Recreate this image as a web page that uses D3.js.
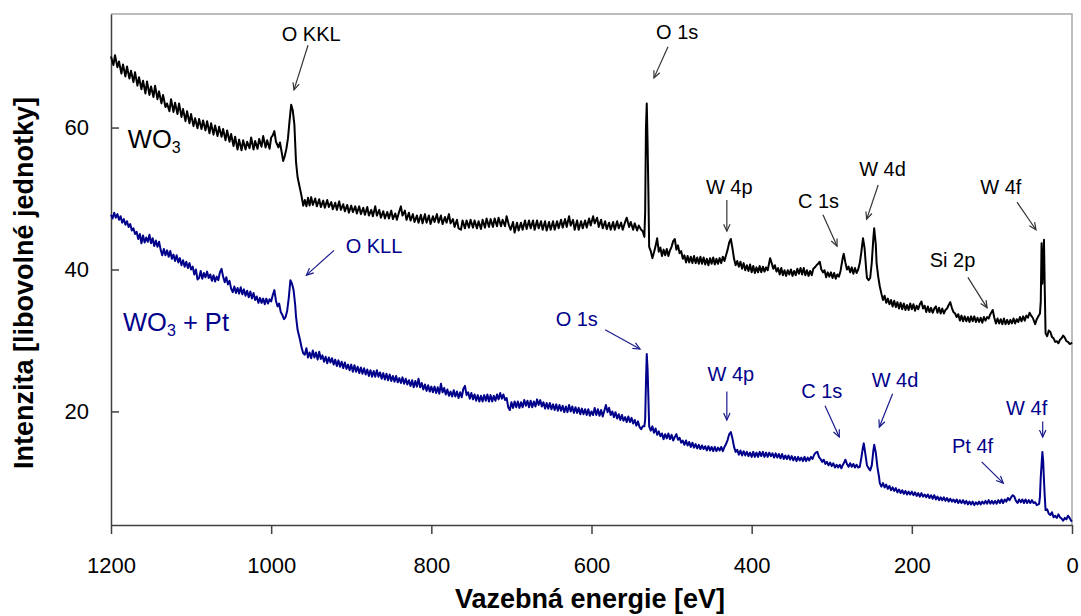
<!DOCTYPE html>
<html><head><meta charset="utf-8">
<script src="https://cdn.jsdelivr.net/npm/d3@7"></script>
<style>
html,body{margin:0;padding:0;background:#fff;}
svg{display:block;font-family:"Liberation Sans",Arial,sans-serif;}
</style></head>
<body><svg id="c" width="1081" height="616"></svg>
<script>
// ---- data (binding energy eV, intensity a.u.) ----
const xTicks = [1200, 1000, 800, 600, 400, 200, 0];
const yTicks = [20, 40, 60];
const xTitle = "Vazebná energie [eV]";
const yTitle = "Intenzita [libovolné jednotky]";

const wo3Spectrum = [
[1200,70.0],[1197,68.8],[1195,70.2],[1192,68.5],[1190,69.3],[1187,67.6],[1185,68.9],[1182,67.2],[1180,68.6],[1177,66.9],
[1175,68.0],[1172,66.4],[1170,67.8],[1167,65.9],[1165,67.1],[1162,65.4],[1160,66.6],[1157,64.8],[1155,66.5],[1152,64.6],
[1150,65.8],[1147,64.3],[1145,65.9],[1142,64.0],[1140,65.1],[1137,63.4],[1135,64.6],[1132,62.9],[1130,63.4],[1127,62.3],
[1125,64.0],[1122,62.2],[1120,63.5],[1117,61.9],[1115,63.4],[1112,61.5],[1110,62.6],[1107,60.9],[1105,62.3],[1102,60.6],
[1100,61.9],[1097,60.2],[1095,61.3],[1092,59.9],[1090,61.2],[1087,59.8],[1085,61.0],[1082,59.6],[1080,60.9],[1077,59.2],
[1075,60.6],[1072,59.0],[1070,60.3],[1067,58.8],[1065,60.1],[1062,58.7],[1060,59.8],[1057,58.2],[1055,59.6],[1052,58.0],
[1050,59.1],[1047,57.4],[1045,58.7],[1042,56.9],[1040,58.3],[1037,56.8],[1035,58.2],[1032,56.9],[1030,58.0],[1027,57.1],
[1025,58.6],[1022,56.9],[1020,58.1],[1017,57.0],[1015,58.4],[1012,57.3],[1010,58.8],[1007,57.2],[1005,58.2],[1002,57.0],
[1000,58.6],[998,58.9],[996,59.5],[994,58.0],[991,57.2],[989,57.9],[987,56.6],[985,55.3],[983,56.0],[981,57.0],
[979,58.5],[977,61.0],[975,63.2],[973,62.4],[971,60.4],[969,55.2],[967,53.0],[964,51.4],[962,50.3],[960,49.0],
[958,49.8],[956,48.9],[954,50.1],[952,49.0],[950,50.2],[948,49.1],[945,50.0],[943,48.9],[940,49.9],[938,48.8],
[935,49.7],[933,48.7],[930,49.8],[928,48.8],[925,49.5],[923,48.5],[920,49.4],[918,48.4],[915,49.6],[913,48.4],
[910,49.2],[908,48.2],[905,49.1],[903,48.0],[900,49.0],[898,48.1],[895,48.9],[893,47.9],[890,48.9],[888,47.8],
[885,48.7],[883,47.7],[880,48.8],[878,47.6],[875,48.4],[873,47.5],[870,48.9],[868,47.6],[865,48.4],[863,47.3],
[860,48.2],[858,47.2],[855,48.1],[853,47.2],[850,48.3],[848,47.1],[845,47.9],[843,47.0],[840,48.2],[838,48.9],
[836,47.6],[833,48.3],[831,47.0],[828,48.0],[826,46.9],[823,47.8],[821,46.7],[818,47.6],[816,46.6],[813,47.7],
[811,46.5],[808,47.8],[806,46.6],[803,47.6],[801,46.4],[798,47.5],[796,46.7],[793,47.8],[791,46.6],[788,47.6],
[786,46.4],[783,47.4],[781,46.6],[778,47.8],[776,46.5],[773,47.1],[771,46.0],[768,47.0],[766,45.8],[763,45.6],
[761,46.9],[758,45.8],[756,46.9],[753,45.9],[751,47.0],[748,45.9],[746,46.9],[743,45.8],[741,46.8],[738,45.7],
[736,47.0],[733,45.9],[731,47.2],[728,46.0],[726,47.1],[723,46.0],[721,47.2],[718,46.1],[716,47.3],[713,46.1],
[711,47.0],[708,46.1],[706,47.5],[703,46.2],[701,45.6],[698,46.7],[696,45.2],[693,46.6],[691,45.5],[688,46.6],
[686,45.6],[683,46.9],[681,45.7],[678,46.9],[676,45.8],[673,46.9],[671,45.6],[668,46.9],[666,45.8],[663,46.8],
[661,45.6],[658,46.8],[656,45.5],[653,46.7],[651,45.6],[648,46.8],[646,45.6],[643,46.8],[641,45.8],[638,47.0],
[636,45.9],[633,47.1],[631,46.0],[628,47.5],[626,46.2],[623,47.0],[621,45.6],[618,46.9],[616,45.6],[613,46.8],
[611,45.8],[608,46.9],[606,45.9],[603,47.2],[601,46.2],[598,47.5],[596,46.5],[593,47.3],[591,46.0],[588,47.0],
[586,45.8],[583,46.8],[581,45.7],[578,46.6],[576,45.6],[573,46.7],[571,45.6],[568,46.8],[566,45.8],[563,46.6],
[561,45.6],[558,46.7],[556,47.3],[553,46.0],[551,46.7],[548,45.6],[546,46.5],[543,45.5],[541,46.2],[538,45.6],
[536,45.4],[534,44.6],[533,48.0],[532,60.0],[531,63.4],[530,58.0],[529,51.2],[528,43.2],[526,42.6],[524,41.6],
[522,42.4],[520,43.3],[518,44.4],[516,42.5],[514,43.1],[512,41.9],[510,42.8],[508,42.0],[506,42.9],[504,41.9],
[502,42.7],[500,43.2],[498,44.0],[496,44.3],[494,42.8],[492,43.4],[490,42.3],[488,42.6],[486,41.5],[484,42.0],
[482,41.0],[480,41.9],[478,41.0],[476,41.8],[474,40.9],[472,41.9],[470,40.9],[468,41.7],[466,40.8],[464,41.8],
[462,40.8],[460,41.7],[458,40.7],[456,41.5],[454,40.6],[452,41.6],[450,40.8],[448,41.7],[446,40.7],[444,41.5],
[442,40.8],[440,41.6],[438,40.9],[436,41.8],[434,41.2],[432,42.0],[430,42.8],[428,43.8],[426,44.3],[424,43.0],
[422,41.5],[420,40.6],[418,41.2],[416,40.4],[414,41.1],[412,40.1],[410,40.9],[408,39.9],[406,40.6],[404,39.8],
[402,40.7],[400,39.6],[398,40.5],[396,39.5],[394,40.3],[392,39.6],[390,40.5],[388,39.6],[386,40.4],[384,39.7],
[382,40.3],[380,39.9],[378,41.0],[377,41.6],[375,40.9],[373,40.1],[371,40.6],[369,39.7],[367,40.2],[365,39.3],
[363,40.2],[361,39.2],[359,39.9],[357,39.1],[355,39.9],[353,39.3],[351,40.0],[349,39.1],[347,39.8],[345,39.2],
[343,40.1],[341,39.4],[339,40.2],[337,39.3],[335,40.2],[333,39.2],[331,39.9],[329,39.1],[327,39.8],[325,39.2],
[323,40.1],[321,40.3],[319,40.6],[317,40.8],[315,41.1],[313,40.0],[311,39.6],[309,39.9],[307,38.9],[305,39.6],
[303,39.0],[301,39.6],[299,38.8],[297,39.5],[295,38.7],[293,39.3],[291,39.0],[289,39.8],[288,40.5],[286,41.8],
[285,42.2],[283,41.0],[281,40.0],[279,40.4],[277,39.6],[275,40.3],[273,39.4],[271,40.2],[269,39.5],[267,40.0],
[265,40.9],[263,42.5],[261,44.4],[259,43.0],[257,40.0],[256,38.8],[254,38.5],[252,38.8],[250,41.0],[248,44.5],
[247,45.8],[245,43.5],[244,40.9],[242,39.0],[240,37.6],[238,36.6],[236,35.7],[234,36.3],[232,35.3],[230,35.9],
[228,35.1],[226,35.7],[224,34.8],[222,35.6],[220,34.7],[218,35.4],[216,34.5],[214,35.3],[212,34.4],[210,35.2],
[208,34.3],[206,35.0],[204,34.3],[202,35.2],[200,34.4],[198,35.1],[196,34.2],[194,34.9],[192,34.4],[190,35.1],
[188,35.5],[186,34.5],[184,34.9],[182,34.0],[180,34.8],[178,34.0],[176,34.6],[174,33.9],[172,34.5],[170,34.8],
[168,33.9],[166,34.6],[164,33.8],[162,34.5],[160,33.8],[158,34.3],[156,34.5],[154,35.0],[152,35.4],[150,34.6],
[148,34.0],[146,33.8],[144,33.3],[142,33.7],[140,32.8],[138,33.5],[136,32.7],[134,33.4],[132,32.7],[130,33.3],
[128,32.6],[126,33.4],[124,32.7],[122,33.4],[120,32.6],[118,33.2],[116,32.6],[114,33.2],[112,32.5],[110,33.3],
[108,32.8],[106,33.3],[104,33.1],[102,33.7],[100,34.1],[99,34.3],[97,33.2],[95,32.4],[93,33.1],[91,32.4],
[89,33.0],[87,32.3],[85,33.1],[83,32.3],[81,32.9],[79,32.3],[77,32.9],[75,32.4],[73,33.1],[71,32.4],
[69,33.0],[67,32.6],[65,33.3],[63,32.7],[61,33.4],[59,32.8],[57,33.5],[55,33.2],[53,33.9],[51,33.5],
[49,33.2],[47,32.6],[46,32.3],[44,33.0],[42,33.4],[40,33.8],[39,35.5],[38,43.7],[37,38.0],[36,40.0],
[35,44.2],[34,37.1],[33,31.0],[31,30.6],[29,31.4],[27,31.2],[25,30.5],[23,30.3],[21,29.8],[19,29.9],
[17,29.6],[15,30.1],[13,30.3],[11,30.7],[9,30.4],[7,29.9],[5,29.8],[3,29.5],[1,29.6],[0,29.7]
];

const wo3PtSpectrum = [
[1200,47.7],[1198,47.2],[1196,48.0],[1194,47.3],[1192,47.8],[1190,47.0],[1188,47.5],[1186,46.6],[1184,47.1],[1182,46.3],
[1180,46.8],[1178,46.0],[1176,46.4],[1174,45.5],[1172,45.8],[1170,45.0],[1168,45.3],[1166,44.3],[1164,45.0],[1162,43.7],
[1160,44.8],[1158,43.8],[1156,44.5],[1154,43.9],[1152,44.9],[1150,43.7],[1148,44.4],[1146,43.3],[1144,44.1],[1142,43.2],
[1140,43.9],[1138,42.8],[1136,42.0],[1134,42.9],[1132,42.0],[1130,42.7],[1128,41.8],[1126,42.6],[1124,41.5],[1122,42.1],
[1120,41.2],[1118,42.0],[1116,41.0],[1114,41.6],[1112,40.6],[1110,41.3],[1108,40.4],[1106,41.1],[1104,40.2],[1102,40.9],
[1100,40.0],[1098,40.4],[1096,39.3],[1094,40.0],[1092,38.6],[1090,38.8],[1088,39.8],[1086,38.7],[1084,39.5],[1082,38.9],
[1080,39.7],[1078,38.8],[1076,39.3],[1074,38.4],[1072,39.2],[1070,38.3],[1068,39.0],[1066,38.5],[1064,39.6],[1062,40.1],
[1060,39.0],[1058,38.2],[1056,38.9],[1054,37.9],[1052,38.4],[1050,37.3],[1048,36.8],[1046,37.6],[1044,36.7],[1042,37.4],
[1040,36.6],[1038,37.5],[1036,36.5],[1034,37.2],[1032,36.3],[1030,37.0],[1028,36.1],[1026,36.9],[1024,35.9],[1022,36.7],
[1020,35.7],[1018,36.2],[1016,35.3],[1014,36.0],[1012,35.3],[1010,35.9],[1008,35.1],[1006,35.9],[1004,35.2],[1002,35.8],
[1000,35.5],[998,36.4],[996,37.1],[994,35.6],[992,34.8],[990,35.2],[988,34.0],[986,33.6],[984,33.0],[982,33.3],
[980,34.2],[978,36.0],[976,38.5],[974,38.0],[972,37.1],[970,35.0],[969,33.4],[967,31.5],[964,30.1],[962,29.0],
[960,28.2],[958,28.0],[956,28.9],[954,27.6],[952,28.3],[950,27.5],[948,28.6],[946,27.6],[944,28.3],[942,27.3],
[940,28.4],[938,27.4],[936,27.9],[934,27.0],[932,27.7],[930,26.8],[928,27.6],[926,26.9],[924,27.5],[922,26.6],
[920,27.3],[918,26.4],[916,27.2],[914,26.3],[912,27.0],[910,26.1],[908,26.9],[906,26.0],[904,26.6],[902,25.8],
[900,26.6],[898,25.6],[896,26.5],[894,25.6],[892,26.3],[890,25.4],[888,26.2],[886,25.3],[884,26.1],[882,25.2],
[880,25.9],[878,25.0],[876,25.8],[874,24.9],[872,25.7],[870,24.9],[868,25.8],[866,24.9],[864,25.5],[862,24.6],
[860,25.4],[858,24.5],[856,25.3],[854,24.4],[852,25.2],[850,24.3],[848,25.0],[846,24.2],[844,25.0],[842,24.1],
[840,24.7],[838,24.0],[836,24.8],[834,23.9],[832,24.6],[830,23.8],[828,24.4],[826,23.6],[824,24.4],[822,23.4],
[820,24.3],[818,23.5],[816,24.6],[814,23.4],[812,24.0],[810,23.1],[808,23.8],[806,22.9],[804,23.7],[802,22.8],
[800,23.5],[798,22.7],[796,23.5],[794,22.6],[792,23.4],[790,22.5],[788,23.9],[786,22.7],[784,23.3],[782,22.4],
[780,23.1],[778,22.2],[776,22.8],[774,22.1],[772,23.0],[770,22.1],[768,22.8],[766,21.9],[764,22.7],[762,22.0],
[760,23.2],[758,23.6],[756,22.3],[754,22.7],[752,21.8],[750,22.6],[748,21.7],[746,22.4],[744,21.5],[742,22.3],
[740,21.4],[738,22.2],[736,21.4],[734,22.3],[732,21.5],[730,22.4],[728,21.4],[726,22.3],[724,21.4],[722,22.2],
[720,21.5],[718,22.4],[716,21.7],[714,22.6],[712,21.8],[710,22.4],[708,21.6],[706,21.9],[704,20.6],[702,20.2],
[700,21.3],[698,20.5],[696,21.4],[694,20.6],[692,21.4],[690,20.5],[688,21.3],[686,20.6],[684,21.6],[682,20.8],
[680,21.5],[678,20.6],[676,21.5],[674,20.6],[672,21.4],[670,20.7],[668,21.7],[666,20.9],[664,21.6],[662,20.7],
[660,21.3],[658,20.4],[656,21.2],[654,20.4],[652,21.2],[650,20.3],[648,21.0],[646,20.2],[644,21.0],[642,20.1],
[640,20.9],[638,20.1],[636,20.8],[634,19.9],[632,20.7],[630,19.9],[628,20.9],[626,20.0],[624,20.7],[622,19.8],
[620,20.6],[618,19.8],[616,20.5],[614,19.6],[612,20.4],[610,19.6],[608,20.3],[606,19.5],[604,20.3],[602,19.4],
[600,20.0],[598,19.5],[596,20.5],[594,19.5],[592,20.3],[590,19.4],[588,20.2],[586,19.3],[584,20.1],[582,20.9],
[580,19.9],[578,20.5],[576,19.5],[574,20.0],[572,19.2],[570,19.9],[568,19.0],[566,19.6],[564,18.8],[562,19.5],
[560,18.7],[558,19.2],[556,18.5],[554,19.3],[552,18.5],[550,19.1],[548,18.3],[546,18.8],[544,18.0],[542,18.6],
[540,17.8],[538,17.5],[536,17.9],[534,17.9],[533,18.8],[532,24.0],[531,28.1],[530,26.0],[529,22.1],[528,17.9],
[526,17.3],[524,17.9],[522,17.0],[520,17.6],[518,16.7],[516,17.2],[514,16.5],[512,16.9],[510,16.1],[508,16.8],
[506,16.2],[504,16.9],[502,16.1],[500,16.7],[498,15.9],[496,16.4],[494,16.8],[492,16.0],[490,16.3],[488,15.6],
[486,15.9],[484,15.3],[482,15.9],[480,15.2],[478,15.7],[476,15.0],[474,15.6],[472,14.9],[470,15.4],[468,14.8],
[466,15.3],[464,14.7],[462,15.2],[460,14.7],[458,15.1],[456,14.5],[454,15.1],[452,14.5],[450,15.0],[448,14.4],
[446,15.0],[444,14.4],[442,14.9],[440,14.5],[438,15.0],[436,14.4],[434,15.0],[432,15.4],[430,16.0],[428,16.8],
[426,17.1],[424,16.2],[422,15.0],[420,14.3],[418,14.6],[416,13.9],[414,14.5],[412,13.8],[410,14.4],[408,13.8],
[406,14.3],[404,13.7],[402,14.2],[400,13.6],[398,14.3],[396,13.6],[394,14.2],[392,13.6],[390,14.3],[388,13.7],
[386,14.3],[384,13.6],[382,14.2],[380,13.6],[378,14.2],[376,13.7],[374,14.1],[372,13.5],[370,14.1],[368,13.5],
[366,14.0],[364,13.4],[362,14.0],[360,13.3],[358,13.8],[356,13.3],[354,13.8],[352,13.2],[350,13.7],[348,13.1],
[346,13.6],[344,13.0],[342,13.6],[340,13.1],[338,13.5],[336,13.0],[334,13.6],[332,13.0],[330,13.5],[328,13.1],
[326,13.6],[324,13.3],[322,13.9],[320,14.2],[318,14.3],[316,13.6],[314,13.3],[312,12.9],[310,13.2],[308,12.6],
[306,12.9],[304,12.4],[302,12.8],[300,12.3],[298,12.7],[296,12.1],[294,12.5],[292,12.1],[290,12.5],[288,12.0],
[286,12.5],[284,12.9],[283,13.2],[281,12.6],[279,12.2],[277,12.7],[275,12.2],[273,12.6],[271,12.1],[269,12.5],
[267,12.1],[265,12.2],[263,13.5],[261,15.0],[260,15.5],[258,14.0],[256,12.4],[254,12.0],[252,11.7],[250,12.4],
[248,14.5],[247,15.3],[245,14.2],[243,12.2],[241,10.8],[240,9.9],[238,9.4],[236,9.9],[234,9.3],[232,9.7],
[230,9.1],[228,9.5],[226,8.9],[224,9.3],[222,8.8],[220,9.2],[218,8.6],[216,9.0],[214,8.5],[212,8.9],
[210,8.4],[208,8.8],[206,8.3],[204,8.7],[202,8.3],[200,8.7],[198,8.2],[196,8.6],[194,8.1],[192,8.5],
[190,8.0],[188,8.5],[186,8.0],[184,8.3],[182,7.9],[180,8.3],[178,7.8],[176,8.2],[174,7.7],[172,8.2],
[170,7.6],[168,8.0],[166,7.5],[164,7.9],[162,7.5],[160,7.9],[158,7.4],[156,7.8],[154,7.3],[152,7.7],
[150,7.3],[148,7.6],[146,7.2],[144,7.6],[142,7.1],[140,7.5],[138,7.1],[136,7.5],[134,7.0],[132,7.4],
[130,6.9],[128,7.3],[126,6.9],[124,7.3],[122,6.8],[120,7.2],[118,6.9],[116,7.3],[114,6.9],[112,7.3],
[110,7.0],[108,7.4],[106,7.0],[104,7.5],[102,7.0],[100,7.4],[98,7.0],[96,7.4],[94,7.0],[92,7.5],
[90,7.1],[88,7.6],[86,7.1],[84,7.6],[82,7.3],[80,7.8],[78,7.5],[76,7.9],[74,8.2],[72,8.0],
[70,7.4],[68,7.1],[66,7.6],[64,7.2],[62,7.6],[60,7.1],[58,7.6],[56,7.1],[54,7.5],[52,7.1],
[50,7.5],[48,7.1],[46,7.2],[44,6.8],[42,6.9],[41,7.0],[40,8.0],[39,10.8],[38,12.5],[37,14.3],
[36,13.0],[35,10.3],[34,8.0],[33,6.1],[31,6.2],[29,5.6],[27,5.4],[25,5.8],[23,5.1],[21,5.3],
[19,5.0],[17,5.5],[15,5.1],[13,4.9],[11,4.6],[9,5.0],[7,4.8],[5,5.3],[3,5.0],[1,4.6],[0,4.5]
];

// peak labels: text, label anchor (eV, intensity), arrow from, arrow to
const wo3Peaks = [
  {t:"O KKL", lx:950, ly:72.2, ax:[954,71.6], at:[971.5,65.3]},
  {t:"O 1s",  lx:493, ly:72.5, ax:[504.5,71.4], at:[522,67.0]},
  {t:"W 4p",  lx:428, ly:50.6, ax:[431,49.8], at:[431,45.4]},
  {t:"C 1s",  lx:316.6, ly:48.7, ax:[311,47.7], at:[293.4,43.3]},
  {t:"W 4d",  lx:236.6, ly:53.2, ax:[242,51.9], at:[256.4,47.1]},
  {t:"W 4f",  lx:88.9, ly:50.7, ax:[68.7,49.5], at:[45,45.6]},
  {t:"Si 2p", lx:149.2, ly:40.4, ax:[130,38.9], at:[106,34.6]}
];
const wo3PtPeaks = [
  {t:"O KLL", lx:871.6, ly:42.3, ax:[921.5,42.7], at:[956,39.2]},
  {t:"O 1s",  lx:618.4, ly:32.0, ax:[583,31.5], at:[539.4,28.8]},
  {t:"W 4p",  lx:426, ly:24.3, ax:[431,22.8], at:[431,18.8]},
  {t:"C 1s",  lx:312.5, ly:21.9, ax:[308.4,20.8], at:[290.6,16.4]},
  {t:"W 4d",  lx:221, ly:23.5, ax:[224,22.5], at:[240.6,17.8]},
  {t:"Pt 4f", lx:124.2, ly:14.1, ax:[112.8,12.9], at:[85.8,9.9]},
  {t:"W 4f",  lx:56.6, ly:19.5, ax:[36.6,18.6], at:[36.6,16.4]}
];
const seriesNames = [
  {main:"WO", sub:"3", rest:"", lx:1179, ly:57.1},
  {main:"WO", sub:"3", rest:" + Pt", lx:1185, ly:31.3}
];

// ---- drawing ----
const svg = d3.select("#c");
const L=111, T=14, R=1072, B=525;
const x = d3.scaleLinear().domain([1200,0]).range([L,R]);
const y = d3.scaleLinear().domain([4,76]).range([B,T]);
const colors = ["#000000", "#00008b"];
const arrowCol = ["#333333", "#1a1a8c"];

svg.append("path").attr("d",`M${L},${T}H${R}V${B}`).attr("fill","none")
   .attr("stroke","#a8a8a8").attr("stroke-width",1.5);

const xAxis = svg.append("g").attr("transform",`translate(0,${B})`)
  .call(d3.axisBottom(x).tickValues(xTicks).tickFormat(d3.format("d")).tickSize(9).tickSizeOuter(0).tickPadding(23));
const yAxis = svg.append("g").attr("transform",`translate(${L},0)`)
  .call(d3.axisLeft(y).tickValues(yTicks).tickSize(-8).tickSizeOuter(0).tickPadding(22));
[xAxis,yAxis].forEach(g=>{
  g.selectAll("path.domain").attr("stroke","#404040").attr("stroke-width",1.5);
  g.selectAll(".tick line").attr("stroke","#404040").attr("stroke-width",1.5);
  g.selectAll(".tick text").attr("font-size",22).attr("fill","#000")
    .attr("font-family","'Liberation Sans',Arial,sans-serif");
});

colors.forEach((c,i)=>{
  svg.append("defs").append("marker").attr("id","ah"+i)
    .attr("viewBox","-8 -5 10 10").attr("refX",0).attr("refY",0)
    .attr("markerWidth",10).attr("markerHeight",10).attr("markerUnits","userSpaceOnUse")
    .attr("orient","auto")
    .append("path").attr("d","M-7,-3.2L0,0L-7,3.2").attr("fill","none")
    .attr("stroke",arrowCol[i]).attr("stroke-width",1.2);
});

const line = d3.line().x(d=>x(d[0])).y(d=>y(d[1]));
[wo3Spectrum, wo3PtSpectrum].forEach((s,i)=>{
  svg.append("path").datum(s).attr("d",line).attr("fill","none")
    .attr("stroke",colors[i]).attr("stroke-width",2).attr("stroke-linejoin","round");
});

[wo3Peaks, wo3PtPeaks].forEach((peaks,i)=>{
  const g = svg.append("g");
  g.selectAll("line").data(peaks).join("line")
    .attr("x1",d=>x(d.ax[0])).attr("y1",d=>y(d.ax[1]))
    .attr("x2",d=>x(d.at[0])).attr("y2",d=>y(d.at[1]))
    .attr("stroke",arrowCol[i]).attr("stroke-width",1.2)
    .attr("marker-end",`url(#ah${i})`);
  g.selectAll("text").data(peaks).join("text")
    .attr("x",d=>x(d.lx)).attr("y",d=>y(d.ly))
    .attr("text-anchor","middle").attr("font-size",20).attr("fill",colors[i])
    .text(d=>d.t);
});

seriesNames.forEach((s,i)=>{
  const t = svg.append("text").attr("x",x(s.lx)).attr("y",y(s.ly))
    .attr("font-size",25.5).attr("fill",colors[i]);
  t.append("tspan").text(s.main);
  t.append("tspan").attr("font-size",16).attr("dy",5).text(s.sub);
  if (s.rest) t.append("tspan").attr("dy",-5).text(s.rest);
});

svg.append("text").attr("x",590).attr("y",608).attr("text-anchor","middle")
  .attr("font-size",27).attr("font-weight","bold").text(xTitle);
svg.append("text").attr("transform","translate(33,283) rotate(-90)")
  .attr("text-anchor","middle").attr("font-size",27).attr("font-weight","bold").text(yTitle);
</script>
</body></html>
